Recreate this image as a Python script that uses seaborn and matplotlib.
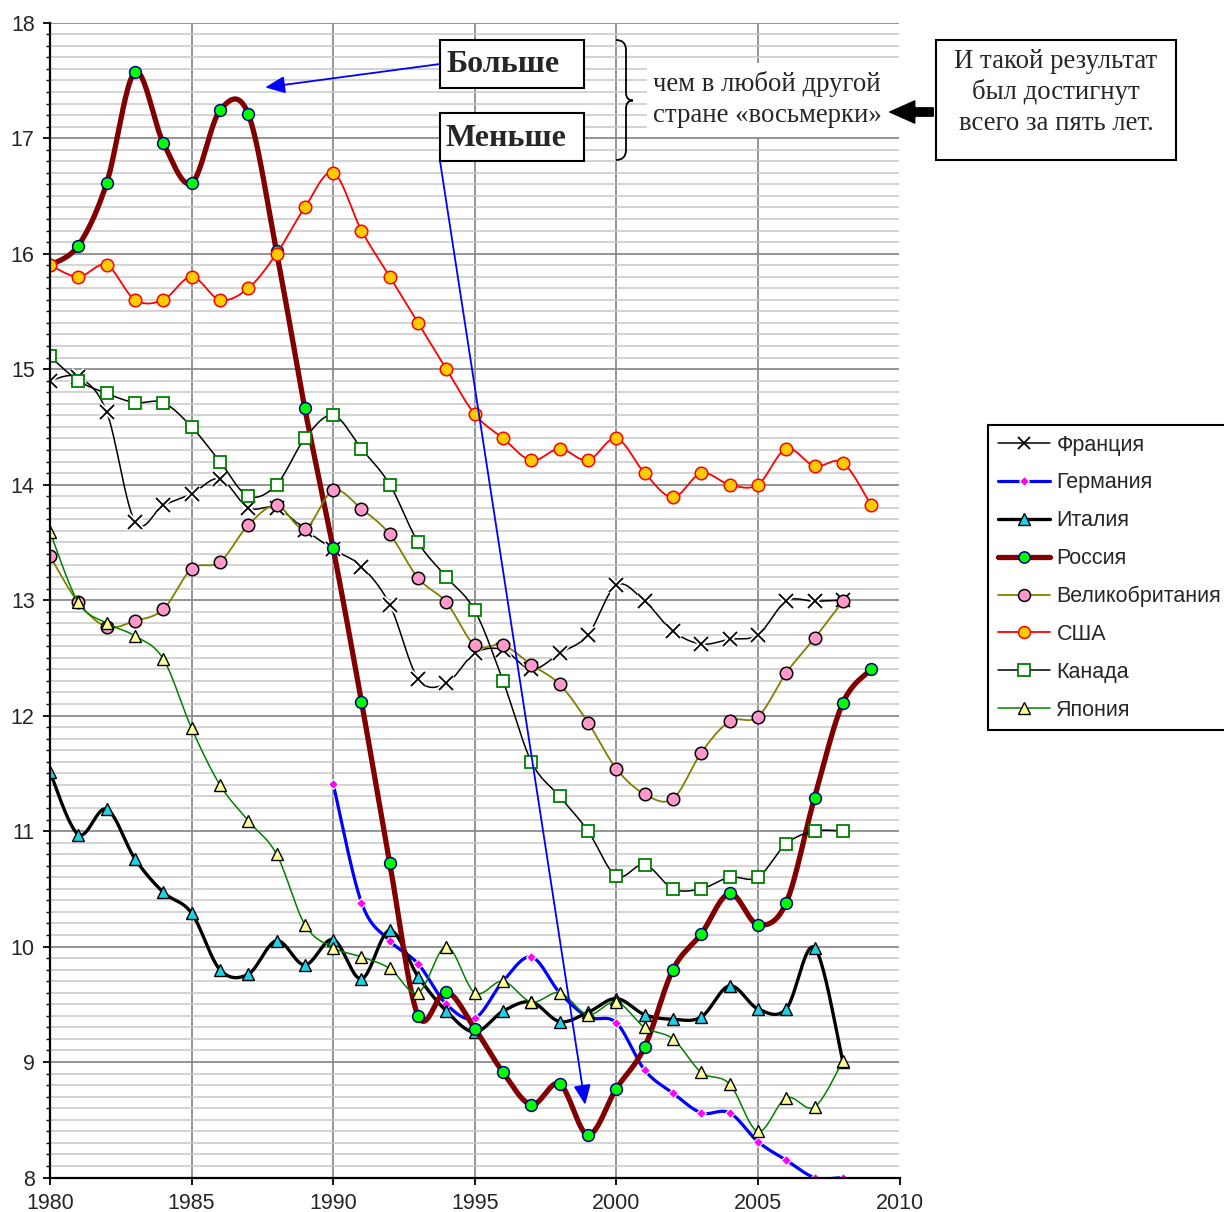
import numpy as np
import pandas as pd
import matplotlib
matplotlib.use("Agg")
import matplotlib.pyplot as plt
import seaborn as sns
from matplotlib.lines import Line2D
from matplotlib.patches import Rectangle, PathPatch, FancyArrowPatch
from matplotlib.path import Path
from matplotlib.ticker import MultipleLocator

# ---------------- data ----------------
years_all = list(range(1980, 2010))          # 1980..2009
years_08 = list(range(1980, 2009))           # 1980..2008
years_de = list(range(1990, 2009))           # 1990..2008

france = [14.90, 14.93, 14.63, 13.68, 13.82, 13.92, 14.05, 13.80, 13.80, 13.61,
          13.44, 13.29, 12.96, 12.32, 12.28, 12.54, 12.57, 12.40, 12.54, 12.70,
          13.13, 12.99, 12.73, 12.62, 12.66, 12.70, 12.99, 12.99, 13.00]
germany = [11.41, 10.38, 10.05, 9.85, 9.50, 9.38, 9.70, 9.91, 9.60, 9.39,
           9.34, 8.93, 8.73, 8.56, 8.56, 8.31, 8.15, 8.00, 8.00]
italy = [11.51, 10.97, 11.19, 10.76, 10.47, 10.29, 9.80, 9.76, 10.05, 9.84,
         10.06, 9.72, 10.14, 9.74, 9.44, 9.26, 9.44, 9.52, 9.35, 9.43,
         9.55, 9.41, 9.37, 9.39, 9.66, 9.46, 9.46, 9.99, 9.00]
russia = [15.90, 16.07, 16.61, 17.57, 16.96, 16.61, 17.24, 17.21, 16.02, 14.66,
          13.45, 12.12, 10.72, 9.40, 9.61, 9.29, 8.91, 8.63, 8.81, 8.37,
          8.77, 9.13, 9.80, 10.11, 10.46, 10.19, 10.38, 11.29, 12.11, 12.40]
uk = [13.38, 12.98, 12.77, 12.82, 12.92, 13.27, 13.33, 13.65, 13.82, 13.62,
      13.95, 13.79, 13.57, 13.19, 12.98, 12.61, 12.61, 12.44, 12.27, 11.94,
      11.54, 11.32, 11.28, 11.68, 11.95, 11.99, 12.37, 12.67, 12.99]
usa = [15.90, 15.80, 15.90, 15.60, 15.60, 15.80, 15.60, 15.70, 16.00, 16.40,
       16.70, 16.20, 15.80, 15.40, 15.00, 14.61, 14.40, 14.21, 14.31, 14.21,
       14.40, 14.10, 13.89, 14.10, 14.00, 14.00, 14.31, 14.16, 14.19, 13.82]
canada = [15.11, 14.90, 14.79, 14.71, 14.71, 14.50, 14.20, 13.90, 14.00, 14.40,
          14.60, 14.31, 14.00, 13.50, 13.20, 12.91, 12.30, 11.60, 11.30, 11.00,
          10.61, 10.71, 10.50, 10.50, 10.60, 10.60, 10.89, 11.00, 11.00]
japan = [13.59, 12.98, 12.80, 12.69, 12.49, 11.89, 11.40, 11.09, 10.80, 10.19,
         9.99, 9.91, 9.81, 9.60, 10.00, 9.60, 9.70, 9.52, 9.60, 9.41,
         9.52, 9.30, 9.20, 8.91, 8.81, 8.40, 8.69, 8.61, 9.01]

labels = ["Франция", "Германия", "Италия", "Россия",
          "Великобритания", "США", "Канада", "Япония"]
x_ticks = [1980, 1985, 1990, 1995, 2000, 2005, 2010]
y_ticks = list(range(8, 19))

# ---------------- styles ----------------
styles = {
    "Франция":        dict(x=years_08, y=france,  lc="black",   lw=1.1, m="x", ms=9.5, mfc="none",    mec="black",   mew=1.3),
    "Германия":       dict(x=years_de, y=germany, lc="#0000FF", lw=2.3, m="D", ms=5.0, mfc="#FF00FF", mec="white",   mew=0.8),
    "Италия":         dict(x=years_08, y=italy,   lc="black",   lw=2.4, m="^", ms=9.0, mfc="#1FD0E6", mec="black",   mew=1.0),
    "Россия":         dict(x=years_all, y=russia, lc="#800000", lw=3.8, m="o", ms=8.5, mfc="#00FF00", mec="#000080", mew=1.1),
    "Великобритания": dict(x=years_08, y=uk,      lc="#808000", lw=1.3, m="o", ms=9.0, mfc="#FF99CC", mec="black",   mew=1.1),
    "США":            dict(x=years_all, y=usa,    lc="#FF0000", lw=1.3, m="o", ms=9.0, mfc="#FFCC00", mec="#FF0000", mew=1.1),
    "Канада":         dict(x=years_08, y=canada,  lc="black",   lw=1.1, m="s", ms=8.5, mfc="white",   mec="#008000", mew=1.3),
    "Япония":         dict(x=years_08, y=japan,   lc="#008000", lw=1.1, m="^", ms=9.0, mfc="#FFFF99", mec="black",   mew=1.0),
}


def smooth(x, y, n=24):
    """Excel-like smoothed line (cubic Bezier, Catmull-Rom control points)."""
    pts = np.column_stack([np.asarray(x, float), np.asarray(y, float)])
    P = np.vstack([pts[0], pts, pts[-1]])
    t = np.linspace(0, 1, n, endpoint=False)[:, None]
    out = []
    for i in range(1, len(P) - 2):
        p0, p1, p2, p3 = P[i - 1], P[i], P[i + 1], P[i + 2]
        c1 = p1 + (p2 - p0) / 6.0
        c2 = p2 - (p3 - p1) / 6.0
        b = (1 - t) ** 3 * p1 + 3 * (1 - t) ** 2 * t * c1 + 3 * (1 - t) * t ** 2 * c2 + t ** 3 * p2
        out.append(b)
    out.append(pts[-1:])
    return np.vstack(out)


# ---------------- figure ----------------
sns.set_style("white")
plt.rcParams["font.family"] = ["Liberation Sans", "DejaVu Sans"]

W, H = 1224, 1212
fig = plt.figure(figsize=(W / 100, H / 100), dpi=100)
fig.patch.set_facecolor("white")
ax = fig.add_axes([50 / W, (H - 1177.5) / H, 849.5 / W, (1177.5 - 22.7) / H])

handles = []
for k, name in enumerate(labels):
    s = styles[name]
    dense = smooth(s["x"], s["y"])
    df = pd.DataFrame({"year": dense[:, 0], "val": dense[:, 1]})
    z = 3 + k
    sns.lineplot(data=df, x="year", y="val", ax=ax, color=s["lc"], lw=s["lw"],
                 sort=False, estimator=None, zorder=z)
    if name == "Франция":
        ax.plot(s["x"], s["y"], ls="none", marker="x", ms=s["ms"] + 1,
                mec="white", mew=4.0, zorder=z + 0.2)
    ax.plot(s["x"], s["y"], ls="none", marker=s["m"], ms=s["ms"],
            mfc=s["mfc"], mec=s["mec"], mew=s["mew"], zorder=z + 0.5)
    handles.append(Line2D([], [], color=s["lc"], lw=s["lw"], marker=s["m"],
                          ms=s["ms"] * 0.95, mfc=s["mfc"], mec=s["mec"], mew=s["mew"]))

ax.set_xlabel("")
ax.set_ylabel("")
ax.set_xlim(1980, 2010)
ax.set_ylim(8, 18)
ax.set_xticks(x_ticks)
ax.set_yticks(y_ticks)
ax.yaxis.set_minor_locator(MultipleLocator(0.1))
ax.set_axisbelow(True)
ax.grid(which="major", axis="both", color="#8c8c8c", lw=1.3)
ax.grid(which="minor", axis="y", color="#c8c8c8", lw=1.1)
for sp in ["top", "right"]:
    ax.spines[sp].set_visible(False)
for sp in ["left", "bottom"]:
    ax.spines[sp].set_color("black")
    ax.spines[sp].set_linewidth(1.6)
    ax.spines[sp].set_zorder(20)
ax.tick_params(axis="y", which="major", direction="out", length=5, width=1.3,
               labelsize=15.5, pad=6, color="black", left=True)
ax.tick_params(axis="y", which="minor", direction="out", length=3, width=1.0,
               color="black", left=True)
ax.tick_params(axis="x", which="major", direction="out", length=5, width=1.3,
               labelsize=15.5, pad=6, color="black", bottom=True)

# ---------------- legend ----------------
leg = fig.legend(handles, labels, loc="upper left",
                 bbox_to_anchor=(988 / W, 1 - 425 / H), frameon=True,
                 fancybox=False, edgecolor="black", framealpha=1, fontsize=15.5,
                 handlelength=2.45, handletextpad=0.28, labelspacing=0.78,
                 borderpad=0.45, borderaxespad=0)
leg.get_frame().set_linewidth(1.5)


# ---------------- annotations ----------------
def fx(x):
    return x / W


def fy(y):
    return 1 - y / H


def box(x0, y0, x1, y1, ec="black", lw=1.5):
    fig.add_artist(Rectangle((fx(x0), fy(y1)), (x1 - x0) / W, (y1 - y0) / H,
                             transform=fig.transFigure, facecolor="white",
                             edgecolor=ec, lw=lw, zorder=30))


serif = ["Liberation Serif", "DejaVu Serif"]

# Больше / Меньше boxes
box(440, 40, 584, 88)
fig.text(fx(446), fy(65), "Больше", family=serif, weight="bold", fontsize=23,
         va="center", ha="left", zorder=31)
box(440, 113, 584, 161)
fig.text(fx(446), fy(138), "Меньше", family=serif, weight="bold", fontsize=23,
         va="center", ha="left", zorder=31)

# white background for the explanatory text
box(647, 63, 900, 137, ec="none", lw=0)
fig.text(fx(653), fy(84), "чем в любой другой", family=serif, fontsize=19.3,
         va="center", ha="left", zorder=31)
fig.text(fx(653), fy(116), "стране «восьмерки»", family=serif, fontsize=19.3,
         va="center", ha="left", zorder=31)

# right box
box(936, 40, 1176, 160)
for yy, line in zip([61, 92, 123], ["И такой результат", "был достигнут", "всего за пять лет."]):
    fig.text(fx(1056), fy(yy), line, family=serif, fontsize=19.3,
             va="center", ha="center", zorder=31)

# thick black arrow
fig.add_artist(FancyArrowPatch((fx(936), fy(112)), (fx(887), fy(112)),
                               transform=fig.transFigure,
                               arrowstyle="simple,head_length=0.9,head_width=0.8,tail_width=0.3",
                               mutation_scale=20, color="black", zorder=32))

# curly brace
bx0, bx1, bx2 = 616, 626, 633
by0, bym, by1 = 40, 100.5, 160
verts = [(bx0, by0), (bx1, by0), (bx1, by0 + 10),
         (bx1, bym - 8),
         (bx1, bym), (bx2, bym),
         (bx1, bym), (bx1, bym + 8),
         (bx1, by1 - 10),
         (bx1, by1), (bx0, by1)]
codes = [Path.MOVETO, Path.CURVE3, Path.CURVE3,
         Path.LINETO,
         Path.CURVE3, Path.CURVE3,
         Path.CURVE3, Path.CURVE3,
         Path.LINETO,
         Path.CURVE3, Path.CURVE3]
brace = Path([(fx(a), fy(b)) for a, b in verts], codes)
fig.add_artist(PathPatch(brace, transform=fig.transFigure, facecolor="none",
                         edgecolor="black", lw=1.3, zorder=32))

# blue arrows
arrow_kw = dict(arrowstyle="-|>,head_length=0.8,head_width=0.35", color="#0000FF",
                lw=1.3, mutation_scale=15, shrinkA=0, shrinkB=0)
a1 = ax.annotate("", xy=(1987.6, 17.44), xycoords="data",
                 xytext=(fx(440), fy(64)), textcoords="figure fraction",
                 arrowprops=arrow_kw, annotation_clip=False)
a1.set_zorder(25)
a2 = ax.annotate("", xy=(1998.9, 8.63), xycoords="data",
                 xytext=(fx(440), fy(161)), textcoords="figure fraction",
                 arrowprops=arrow_kw, annotation_clip=False)
a2.set_zorder(25)

fig.savefig("out.png", dpi=100, facecolor="white")
